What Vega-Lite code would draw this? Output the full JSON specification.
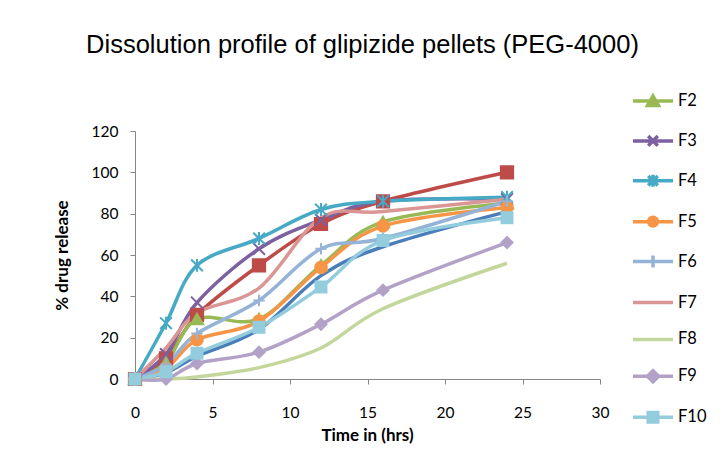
{
  "$schema": "https://vega.github.io/schema/vega-lite/v6.json",
  "width": 465,
  "height": 248,
  "autosize": {"type": "none"},
  "padding": {"left": 135, "top": 131, "right": 123, "bottom": 75},
  "background": "white",
  "title": {"text": "Dissolution profile of glipizide pellets (PEG-4000)", "font": "Liberation Sans", "fontSize": 25.5, "fontWeight": "normal", "color": "#000000", "anchor": "middle", "dx": -5, "offset": 21},
  "config": {"view": {"stroke": null}},
  "data": {"values": [
    {"series": "Series1", "time": 0, "release": 0},
    {"series": "Series1", "time": 2, "release": 3},
    {"series": "Series1", "time": 4, "release": 11},
    {"series": "Series1", "time": 8, "release": 24},
    {"series": "Series1", "time": 12, "release": 50},
    {"series": "Series1", "time": 16, "release": 64},
    {"series": "Series1", "time": 24, "release": 81},
    {"series": "F1", "time": 0, "release": 0},
    {"series": "F1", "time": 2, "release": 10},
    {"series": "F1", "time": 4, "release": 31},
    {"series": "F1", "time": 8, "release": 55},
    {"series": "F1", "time": 12, "release": 75},
    {"series": "F1", "time": 16, "release": 86},
    {"series": "F1", "time": 24, "release": 100},
    {"series": "F2", "time": 0, "release": 0},
    {"series": "F2", "time": 2, "release": 8},
    {"series": "F2", "time": 4, "release": 29},
    {"series": "F2", "time": 8, "release": 29},
    {"series": "F2", "time": 12, "release": 55},
    {"series": "F2", "time": 16, "release": 76},
    {"series": "F2", "time": 24, "release": 85},
    {"series": "F3", "time": 0, "release": 0},
    {"series": "F3", "time": 2, "release": 12},
    {"series": "F3", "time": 4, "release": 37},
    {"series": "F3", "time": 8, "release": 63},
    {"series": "F3", "time": 12, "release": 77},
    {"series": "F3", "time": 16, "release": 86},
    {"series": "F3", "time": 24, "release": 87},
    {"series": "F4", "time": 0, "release": 0},
    {"series": "F4", "time": 2, "release": 27},
    {"series": "F4", "time": 4, "release": 55},
    {"series": "F4", "time": 8, "release": 68},
    {"series": "F4", "time": 12, "release": 82},
    {"series": "F4", "time": 16, "release": 86},
    {"series": "F4", "time": 24, "release": 88},
    {"series": "F5", "time": 0, "release": 0},
    {"series": "F5", "time": 2, "release": 5},
    {"series": "F5", "time": 4, "release": 19},
    {"series": "F5", "time": 8, "release": 28},
    {"series": "F5", "time": 12, "release": 54},
    {"series": "F5", "time": 16, "release": 74},
    {"series": "F5", "time": 24, "release": 83},
    {"series": "F6", "time": 0, "release": 0},
    {"series": "F6", "time": 2, "release": 7},
    {"series": "F6", "time": 4, "release": 22},
    {"series": "F6", "time": 8, "release": 38},
    {"series": "F6", "time": 12, "release": 63},
    {"series": "F6", "time": 16, "release": 68},
    {"series": "F6", "time": 24, "release": 86},
    {"series": "F7", "time": 0, "release": 0},
    {"series": "F7", "time": 2, "release": 15},
    {"series": "F7", "time": 4, "release": 32},
    {"series": "F7", "time": 8, "release": 44},
    {"series": "F7", "time": 12, "release": 78},
    {"series": "F7", "time": 16, "release": 81},
    {"series": "F7", "time": 24, "release": 87},
    {"series": "F8", "time": 0, "release": 0},
    {"series": "F8", "time": 2, "release": 0},
    {"series": "F8", "time": 4, "release": 1},
    {"series": "F8", "time": 8, "release": 5.5},
    {"series": "F8", "time": 12, "release": 15},
    {"series": "F8", "time": 16, "release": 34},
    {"series": "F8", "time": 24, "release": 56},
    {"series": "F9", "time": 0, "release": 0},
    {"series": "F9", "time": 2, "release": 0},
    {"series": "F9", "time": 4, "release": 7.5},
    {"series": "F9", "time": 8, "release": 13},
    {"series": "F9", "time": 12, "release": 26.5},
    {"series": "F9", "time": 16, "release": 43},
    {"series": "F9", "time": 24, "release": 66},
    {"series": "F10", "time": 0, "release": 0},
    {"series": "F10", "time": 2, "release": 3.5},
    {"series": "F10", "time": 4, "release": 12.5},
    {"series": "F10", "time": 8, "release": 25},
    {"series": "F10", "time": 12, "release": 44.5},
    {"series": "F10", "time": 16, "release": 67},
    {"series": "F10", "time": 24, "release": 78}
  ]},
  "encoding": {
    "x": {"field": "time", "type": "quantitative", "scale": {"domain": [0, 30], "nice": false},
      "axis": {"values": [0, 5, 10, 15, 20, 25, 30], "grid": false, "title": "Time in (hrs)",
        "titleFont": "Lato", "titleFontSize": 17, "titleFontWeight": "bold", "titleColor": "#000000",
        "titleX": 232, "titleY": 56, "titleBaseline": "middle",
        "labelFont": "Lato", "labelFontSize": 15.5, "labelColor": "#000000", "labelBaseline": "middle", "labelPadding": 28,
        "tickSize": 5, "tickColor": "#868686", "domainColor": "#868686", "labelFlush": false}},
    "y": {"field": "release", "type": "quantitative", "scale": {"domain": [0, 120], "nice": false},
      "axis": {"values": [0, 20, 40, 60, 80, 100, 120], "grid": false, "title": "% drug release",
        "titleFont": "Lato", "titleFontSize": 17, "titleFontWeight": "bold", "titleColor": "#000000",
        "titleX": -73, "titleY": 124, "titleAngle": -90, "titleBaseline": "middle", "titleAlign": "center",
        "labelFont": "Lato", "labelFontSize": 15.5, "labelColor": "#000000", "labelPadding": 12,
        "tickSize": 5, "tickColor": "#868686", "domainColor": "#868686", "labelFlush": false}}
  },
  "layer": [
    {
      "mark": {"type": "line", "interpolate": "cardinal", "strokeWidth": 3.5},
      "encoding": {
        "color": {"field": "series", "type": "nominal",
          "scale": {"domain": ["Series1", "F1", "F2", "F3", "F4", "F5", "F6", "F7", "F8", "F9", "F10"],
            "range": ["#4A7EBB", "#BE4B48", "#98B954", "#7D60A0", "#46AAC5", "#F69546", "#95B3D7", "#D99694", "#C3D69B", "#B3A2C7", "#93CDDD"]},
          "legend": {"title": null, "values": ["F2", "F3", "F4", "F5", "F6", "F7", "F8", "F9", "F10"],
            "orient": "none", "legendX": 496, "legendY": -52, "padding": 0,
            "symbolSize": 1600, "symbolStrokeWidth": 3.5, "rowPadding": 5.9, "labelOffset": 3,
            "labelFont": "Lato", "labelFontSize": 16.5, "labelColor": "#000000",
            "encode": {"symbols": {"update": {
              "shape": {"signal": "datum.value==='F2' ? 'M-1,0H1M0,-0.25L0.27,0.22H-0.27Z' : datum.value==='F3' ? 'M-1,0H1M-0.24,-0.24L0.24,0.24M-0.24,0.24L0.24,-0.24' : datum.value==='F4' ? 'M-1,0H1M-0.24,-0.24L0.24,0.24M-0.24,0.24L0.24,-0.24M0,-0.3V0.3' : datum.value==='F5' ? 'M-1,0H1M0.22,0A0.22,0.22,0,1,1,-0.22,0A0.22,0.22,0,1,1,0.22,0Z' : datum.value==='F6' ? 'M-1,0H1M0,-0.3V0.3' : datum.value==='F9' ? 'M-1,0H1M0,-0.28L0.28,0L0,0.28L-0.28,0Z' : datum.value==='F10' ? 'M-1,0H1M-0.24,-0.24H0.24V0.24H-0.24Z' : 'M-1,0H1'"},
              "fill": {"scale": "color", "field": "value"},
              "stroke": {"scale": "color", "field": "value"},
              "strokeWidth": {"value": 3.5}
            }}}}
        }
      }
    },
    {
      "transform": [{"filter": "indexof(['F1','F2','F3','F4','F5','F6','F9','F10'], datum.series) >= 0"}],
      "mark": {"type": "point", "filled": true, "opacity": 1, "strokeWidth": 2},
      "encoding": {
        "color": {"field": "series", "type": "nominal"},
        "stroke": {"field": "series", "type": "nominal", "legend": null,
          "scale": {"domain": ["Series1", "F1", "F2", "F3", "F4", "F5", "F6", "F7", "F8", "F9", "F10"],
            "range": ["#4A7EBB", "#BE4B48", "#98B954", "#7D60A0", "#46AAC5", "#F69546", "#95B3D7", "#D99694", "#C3D69B", "#B3A2C7", "#93CDDD"]}},
        "shape": {"field": "series", "type": "nominal", "legend": null,
          "scale": {"domain": ["F1", "F2", "F3", "F4", "F5", "F6", "F9", "F10"],
            "range": ["square", "triangle-up", "M-1,-1L1,1M-1,1L1,-1", "M-1,-1L1,1M-1,1L1,-1M0,-1.1V1.1", "circle", "M-1,0H1M0,-1V1", "diamond", "square"]}},
        "size": {"field": "series", "type": "nominal", "legend": null,
          "scale": {"domain": ["F1", "F2", "F3", "F4", "F5", "F6", "F9", "F10"],
            "range": [150, 120, 144, 196, 130, 144, 170, 160]}}
      }
    }
  ]
}
